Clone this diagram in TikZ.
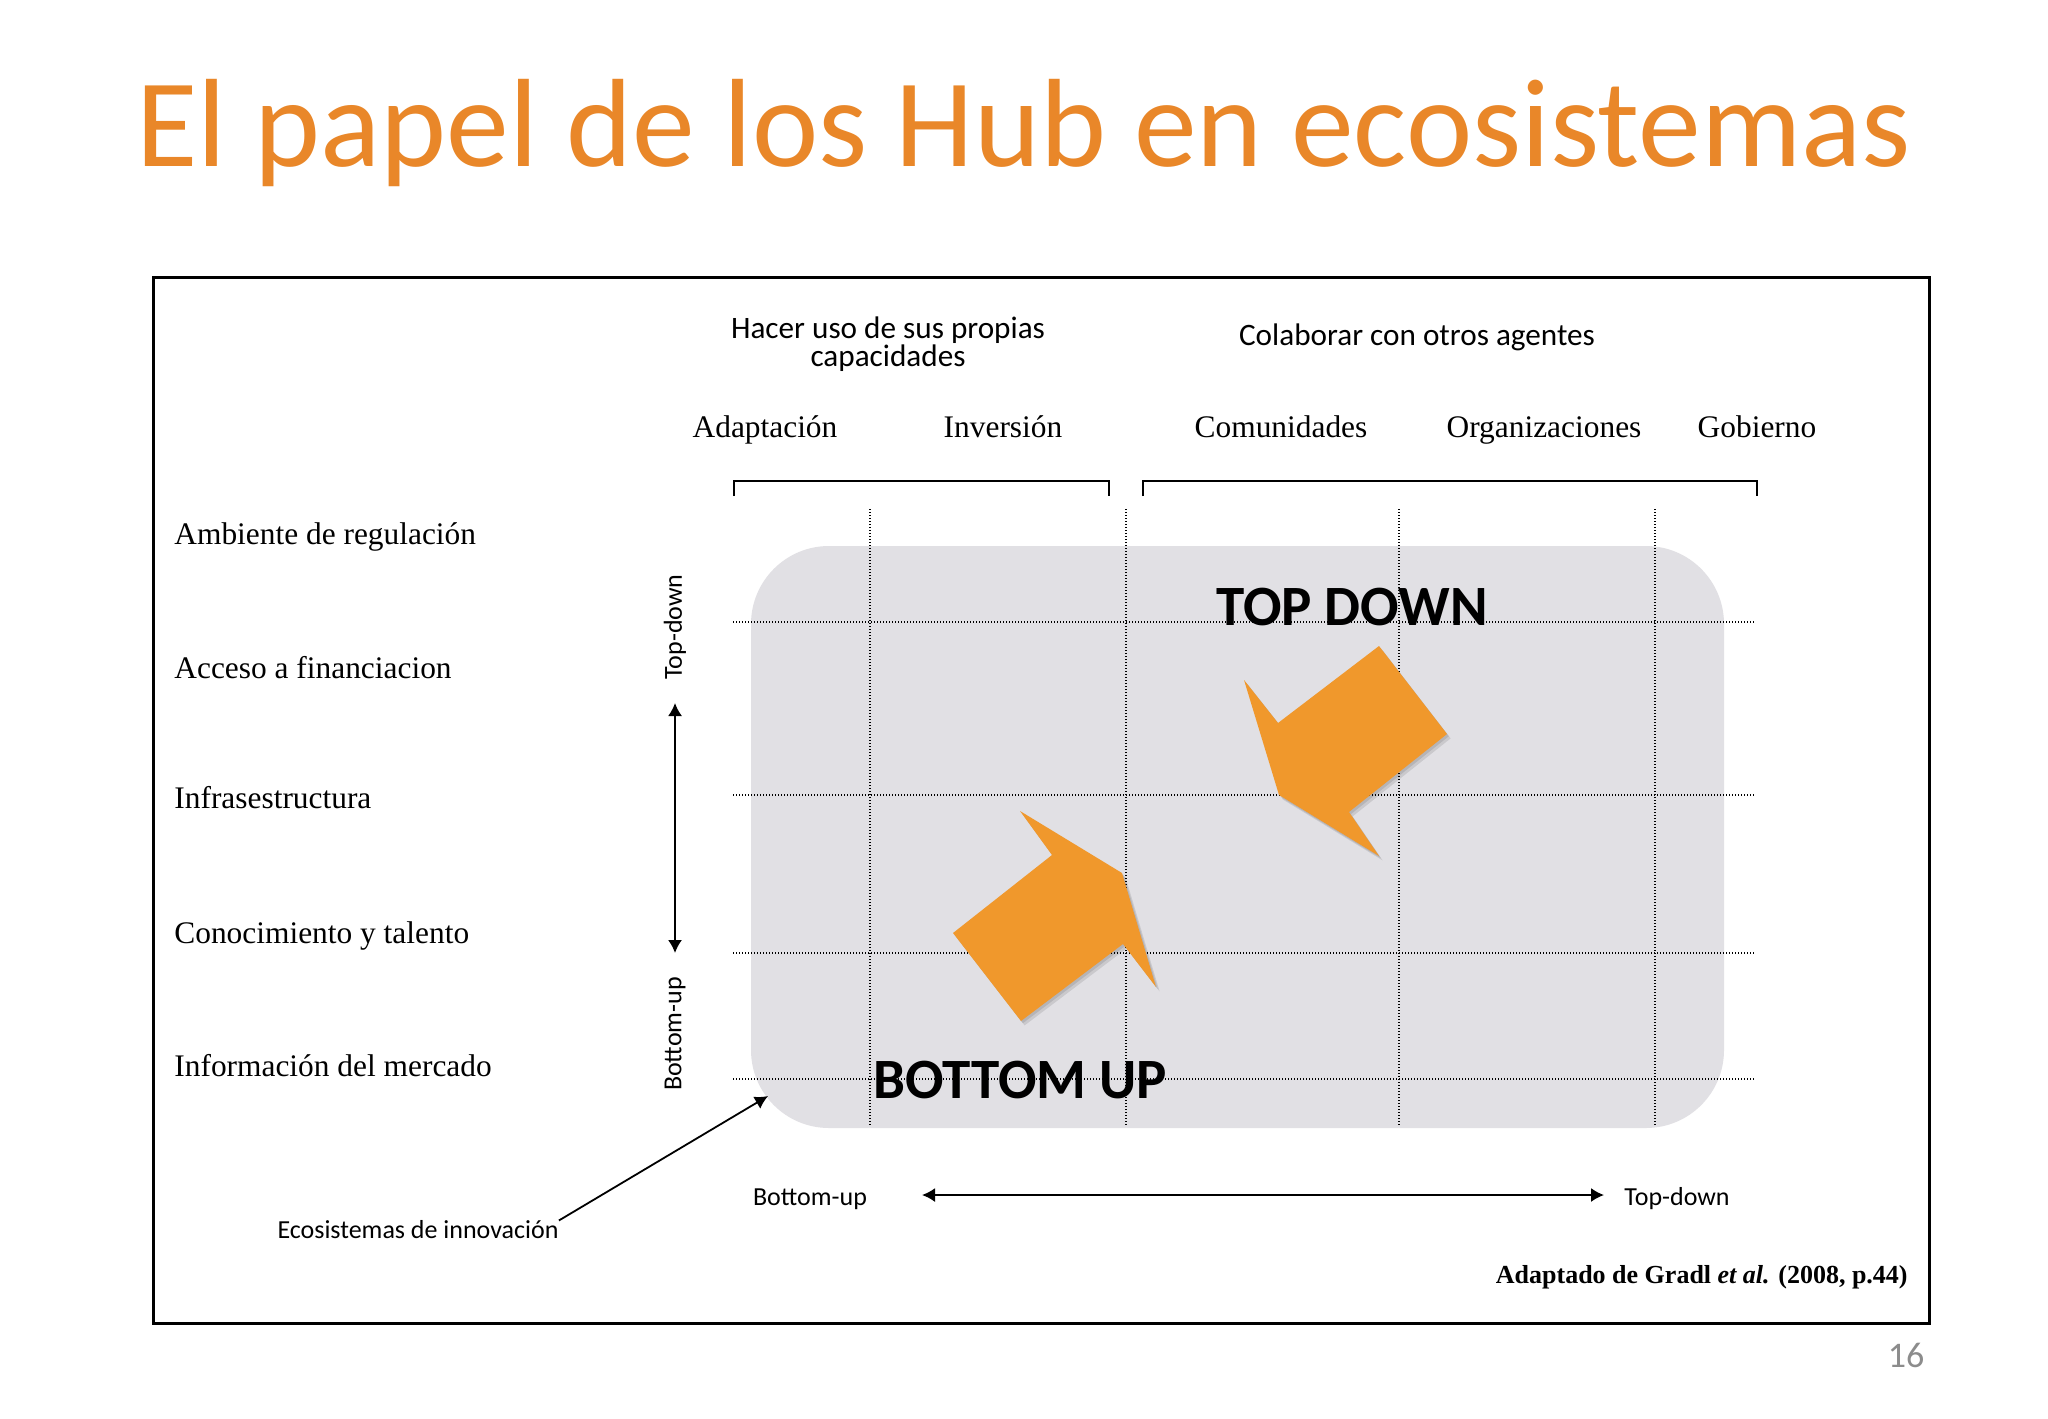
\documentclass[tikz,border=0pt]{standalone}
\usepackage{fontspec}
\setmainfont{Liberation Serif}
\newfontfamily\calib{Carlito}
\usetikzlibrary{arrows.meta}
\definecolor{titleorange}{RGB}{233,135,41}
\definecolor{arroworange}{RGB}{240,152,44}
\definecolor{boxgray}{RGB}{225,224,228}
\definecolor{numgray}{RGB}{140,140,140}
\begin{document}
\begin{tikzpicture}[x=0.5pt,y=-0.5pt,
  serif/.style={font=\fontsize{15.7pt}{18pt}\selectfont, inner sep=0pt},
  hdr/.style={font=\calib\fontsize{15.6pt}{14pt}\selectfont, inner sep=0pt, align=center},
  small/.style={font=\calib\fontsize{13pt}{15pt}\selectfont, inner sep=0pt},
  big/.style={font=\calib\bfseries\fontsize{28.5pt}{30pt}\selectfont, inner sep=0pt},
  dots/.style={line width=0.6pt, dash pattern=on 0.6pt off 0.9pt},
  arr/.style={line width=0.9pt, -{Latex[length=6.5pt,width=7pt]}},
  darr/.style={line width=0.9pt, {Latex[length=6.5pt,width=7pt]}-{Latex[length=6.5pt,width=7pt]}},
  brk/.style={line width=1.4pt},
  orangearrow/.style={fill=arroworange},
  shadowarrow/.style={fill=black, opacity=0.10}
]
\useasboundingbox[fill=white] (0,0) rectangle (2048,1418);

% title
\node[anchor=base west, inner sep=0pt, text=titleorange, font=\calib\fontsize{62.8pt}{70pt}\selectfont] (title) at (136,166) {El papel de los Hub en ecosistemas};

% frame
\draw[line width=1.5pt] (153,277) rectangle (1929,1323);

% gray box
\fill[boxgray, rounded corners=39pt] (751,546) rectangle (1724,1128);

% dotted grid
\foreach \y in {622,795,953,1079} \draw[dots] (733,\y) -- (1755,\y);
\foreach \x in {870,1126,1399,1655} \draw[dots] (\x,509) -- (\x,1126);

% headers
\node[hdr] (h1) at (888,344) {Hacer uso de sus propias\\capacidades};
\node[hdr] (h2) at (1417,337) {Colaborar con otros agentes};

% column labels
\node[serif, anchor=base] (c1) at (765,437) {Adaptación};
\node[serif, anchor=base] (c2) at (1003,437) {Inversión};
\node[serif, anchor=base] (c3) at (1281,437) {Comunidades};
\node[serif, anchor=base] (c4) at (1544,437) {Organizaciones};
\node[serif, anchor=base] (c5) at (1757,437) {Gobierno};

% brackets
\draw[brk] (734,496) -- (734,481) -- (1109,481) -- (1109,496);
\draw[brk] (1143,496) -- (1143,481) -- (1757,481) -- (1757,496);

% row labels
\node[serif, anchor=base west] (r1) at (174,544) {Ambiente de regulación};
\node[serif, anchor=base west] (r2) at (174,678) {Acceso a financiacion};
\node[serif, anchor=base west] (r3) at (174,808) {Infrasestructura};
\node[serif, anchor=base west] (r4) at (174,943) {Conocimiento y talento};
\node[serif, anchor=base west] (r5) at (174,1076) {Información del mercado};

% vertical axis
\node[small, rotate=90] (vtd) at (675,627) {Top-down};
\node[small, rotate=90] (vbu) at (675,1034) {Bottom-up};
\coordinate (va1) at (675,703);
\coordinate (va2) at (675,953);
\draw[darr] (va1) -- (va2);

% horizontal axis
\node[small] (hbu) at (810,1199) {Bottom-up};
\node[small] (htd) at (1677,1199) {Top-down};
\coordinate (ha1) at (922,1195);
\coordinate (ha2) at (1604,1195);
\draw[darr] (ha1) -- (ha2);

% ecosistemas
\node[small] (eco) at (418,1230) {Ecosistemas de innovación};
\coordinate (ecotip) at (768,1096);
\draw[arr] (eco.north east) -- (ecotip);

% orange arrows (soft shadow then fill)
\foreach \s in {1,2} {
  \fill[shadowarrow, xshift=\s*0.9pt, yshift=-\s*1.1pt] (1244,680) -- (1278,723) -- (1379,646) -- (1447,734) -- (1349,812) -- (1379,856) -- (1279,795) -- cycle;
  \fill[shadowarrow, xshift=\s*0.9pt, yshift=-\s*1.1pt] (1020,811) -- (1122,873) -- (1156,987) -- (1123,944) -- (1021,1021) -- (953,933) -- (1052,855) -- cycle;
}
\fill[orangearrow] (1244,680) -- (1278,723) -- (1379,646) -- (1447,734) -- (1349,812) -- (1379,856) -- (1279,795) -- cycle;
\fill[orangearrow] (1020,811) -- (1122,873) -- (1156,987) -- (1123,944) -- (1021,1021) -- (953,933) -- (1052,855) -- cycle;

% big labels
\node[big] (tdl) at (1352,607) {TOP DOWN};
\node[big] (bul) at (1020,1080) {BOTTOM UP};

% citation and page number
\node[anchor=base east, inner sep=0pt, font=\bfseries\fontsize{13pt}{15pt}\selectfont] (cite) at (1908,1283) {Adaptado de Gradl {\itshape et al.} (2008, p.44)};
\node[inner sep=0pt, text=numgray, font=\calib\fontsize{18pt}{20pt}\selectfont] (pg) at (1906,1355) {16};
\end{tikzpicture}
\end{document}
